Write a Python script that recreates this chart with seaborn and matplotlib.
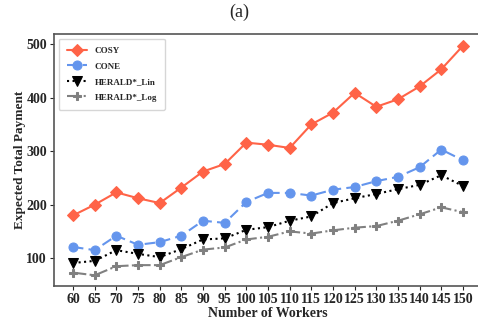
import matplotlib
matplotlib.use("Agg")
import matplotlib.pyplot as plt
import seaborn as sns
import pandas as pd

workers = [60, 65, 70, 75, 80, 85, 90, 95, 100, 105, 110, 115, 120, 125, 130, 135, 140, 145, 150]
cosy = [180, 200, 223, 212, 203, 232, 262, 276, 316, 312, 306, 350, 372, 409, 383, 397, 421, 453, 497]
cone = [121, 115, 142, 125, 130, 142, 170, 166, 205, 222, 222, 217, 228, 233, 244, 252, 270, 303, 283]
herald_lin = [91, 95, 115, 108, 102, 117, 135, 137, 153, 158, 170, 178, 203, 212, 220, 229, 237, 255, 235]
herald_log = [73, 68, 85, 87, 87, 102, 116, 120, 135, 140, 150, 146, 152, 157, 160, 170, 182, 195, 186]
series_names = ["COSY", "CONE", "HERALD*_Lin", "HERALD*_Log"]

sns.set_theme(style="white")
plt.rcParams['font.family'] = ['Liberation Serif', 'DejaVu Serif']

fig = plt.figure(figsize=(4.78, 3.2), dpi=100)
ax = fig.add_axes([54/478, 1-286/320, (482-54)/478, (286-34)/320])

styles = [
    dict(color="#FF6347", marker="D", linestyle="-", markersize=6.5),
    dict(color="#6495ED", marker="o", linestyle=(0, (5, 2.5)), markersize=6.5),
    dict(color="black", marker="v", linestyle=":", markersize=7),
    dict(color="grey", marker="P", linestyle="-.", markersize=6),
]
for name, vals, st in zip(series_names, [cosy, cone, herald_lin, herald_log], styles):
    df = pd.DataFrame({"x": workers, "y": vals})
    sns.lineplot(data=df, x="x", y="y", ax=ax, label=name, color=st["color"],
                 marker=st["marker"], linestyle=st["linestyle"], markersize=st["markersize"],
                 markeredgecolor=st["color"], linewidth=1.5)

ax.set_xticks(workers)
ax.set_xticklabels([str(w) for w in workers], fontweight="bold", fontsize=10)
ax.set_yticks([100, 200, 300, 400, 500])
ax.set_yticklabels(["100", "200", "300", "400", "500"], fontweight="bold", fontsize=10)
ax.set_xlim(55.6, 154.4)
ax.set_ylim(48, 519)
ax.tick_params(axis="both", which="both", length=3, width=0.8, direction="out", bottom=True, left=True, pad=2)
for sp in ax.spines.values():
    sp.set_color("#555555")
    sp.set_linewidth(1.2)
ax.set_xlabel("Number of Workers", fontweight="bold", fontsize=10, labelpad=1)
ax.set_ylabel("Expected Total Payment", fontweight="bold", fontsize=9.5, labelpad=0)
leg = ax.legend(loc="upper left", prop={"weight": "bold", "size": 6.5}, handlelength=2.2,
                handletextpad=0.9, borderpad=0.9, labelspacing=0.8, frameon=True,
                bbox_to_anchor=(0.0, 1.0))
fig.text(0.5, 1-12/320, "(a)", ha="center", va="center", fontsize=13)
fig.savefig("out.png", dpi=100)
